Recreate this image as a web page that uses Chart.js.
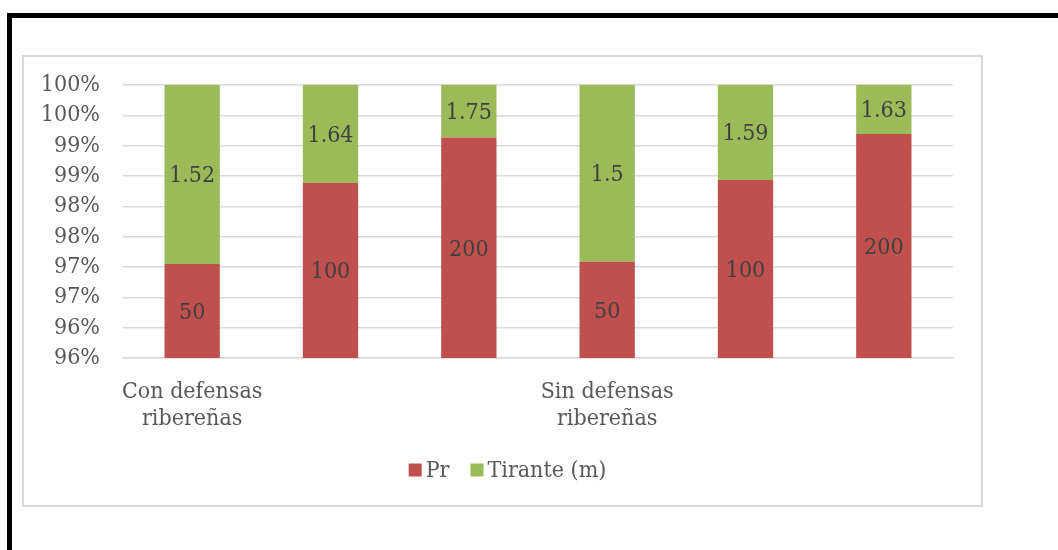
<!DOCTYPE html>
<html>
<head>
<meta charset="utf-8">
<script src="https://cdn.jsdelivr.net/npm/chart.js@4/dist/chart.umd.min.js"></script>
<style>
  html, body { margin: 0; padding: 0; background: #fff; width: 1058px; height: 550px; overflow: hidden; }
  #frame {
    position: absolute; left: 7px; top: 13px; width: 1200px; height: 700px;
    border-top: 5px solid #000; border-left: 5px solid #000;
  }
  #box {
    position: absolute; left: 22px; top: 55px; width: 961px; height: 452px;
    border: 2px solid #d9d9d9; box-sizing: border-box; background: #fff;
  }
  #box canvas { display: block; }
</style>
</head>
<body>
<div id="frame"></div>
<div id="box"><canvas id="c" width="957" height="448"></canvas></div>
<script>
// Categories (label only on the first bar of each group)
const categories = [
  ['Con defensas', 'ribereñas'], '', '',
  ['Sin defensas', 'ribereñas'], '', ''
];
// Raw series values
const prValues = [50, 100, 200, 50, 100, 200];
const tiranteValues = [1.52, 1.64, 1.75, 1.5, 1.59, 1.63];
const seriesNames = ['Pr', 'Tirante (m)'];
const seriesColors = ['#C0504D', '#9BBB59'];
// Percentage axis
const axisMin = 0.955;
const axisMax = 1.0;
const axisStep = 0.005;

const FONT = '"DejaVu Serif Condensed", "DejaVu Serif", serif';
const FONT_SIZE = 23;

// 100% stacking: each series as a share of the category total
const totals = prValues.map((v, i) => v + tiranteValues[i]);
const rawSeries = [prValues, tiranteValues];
const shareSeries = rawSeries.map(arr => arr.map((v, i) => v / totals[i]));

// Value labels centred in the visible part of each segment
const segmentLabels = {
  id: 'segmentLabels',
  afterDatasetsDraw(chart) {
    const { ctx, chartArea } = chart;
    ctx.save();
    ctx.font = FONT_SIZE + 'px ' + FONT;
    ctx.fillStyle = '#404040';
    ctx.textAlign = 'center';
    ctx.textBaseline = 'middle';
    chart.data.datasets.forEach((ds, di) => {
      const meta = chart.getDatasetMeta(di);
      meta.data.forEach((bar, i) => {
        const top = Math.max(Math.min(bar.y, bar.base), chartArea.top);
        const bottom = Math.min(Math.max(bar.y, bar.base), chartArea.bottom);
        if (bottom <= top) return;
        ctx.fillText(String(rawSeries[di][i]), bar.x, (top + bottom) / 2 + 2);
      });
    });
    ctx.restore();
  }
};

// Legend row below the category labels
const bottomLegend = {
  id: 'bottomLegend',
  afterDraw(chart) {
    const { ctx, chartArea } = chart;
    const box = 13, gapText = 4, gapItem = 21;
    ctx.save();
    ctx.font = FONT_SIZE + 'px ' + FONT;
    ctx.textBaseline = 'middle';
    const widths = seriesNames.map(n => ctx.measureText(n).width);
    let total = 0;
    widths.forEach((w, i) => { total += box + gapText + w + (i < widths.length - 1 ? gapItem : 0); });
    let x = chart.width / 2 - total / 2 + 5;
    const y = chartArea.bottom + 112;
    seriesNames.forEach((n, i) => {
      ctx.fillStyle = seriesColors[i];
      ctx.fillRect(x, y - box / 2, box, box);
      x += box + gapText;
      ctx.fillStyle = '#595959';
      ctx.textAlign = 'left';
      ctx.fillText(n, x, y + 1);
      x += widths[i] + gapItem;
    });
    ctx.restore();
  }
};

new Chart(document.getElementById('c'), {
  type: 'bar',
  data: {
    labels: categories,
    datasets: seriesNames.map((name, i) => ({
      label: name,
      data: shareSeries[i],
      backgroundColor: seriesColors[i],
      borderWidth: 0,
      categoryPercentage: 1.0,
      barPercentage: 0.4
    }))
  },
  options: {
    responsive: false,
    animation: false,
    layout: { padding: { top: 28, right: 28, left: 0, bottom: 0 } },
    plugins: {
      legend: { display: false },
      tooltip: { enabled: false }
    },
    scales: {
      x: {
        stacked: true,
        grid: { display: false, drawTicks: false },
        border: { display: true, color: '#d9d9d9', width: 1.5 },
        ticks: {
          autoSkip: false, maxRotation: 0, padding: 20,
          color: '#595959',
          font: { family: FONT, size: FONT_SIZE, lineHeight: 1.2 }
        },
        afterFit(scale) { scale.height = 147; }
      },
      y: {
        stacked: true,
        min: axisMin,
        max: axisMax,
        grid: { color: '#d9d9d9', lineWidth: 1.5, drawTicks: false },
        border: { display: false },
        ticks: {
          stepSize: axisStep,
          autoSkip: false,
          padding: 23,
          color: '#595959',
          font: { family: FONT, size: FONT_SIZE },
          callback: v => Math.round(v * 100 + 1e-6) + '%'
        },
        afterFit(scale) {
          scale.width = 99;
          scale.paddingTop = 0;
          scale.paddingBottom = 0;
        }
      }
    }
  },
  plugins: [segmentLabels, bottomLegend]
});
</script>
</body>
</html>
